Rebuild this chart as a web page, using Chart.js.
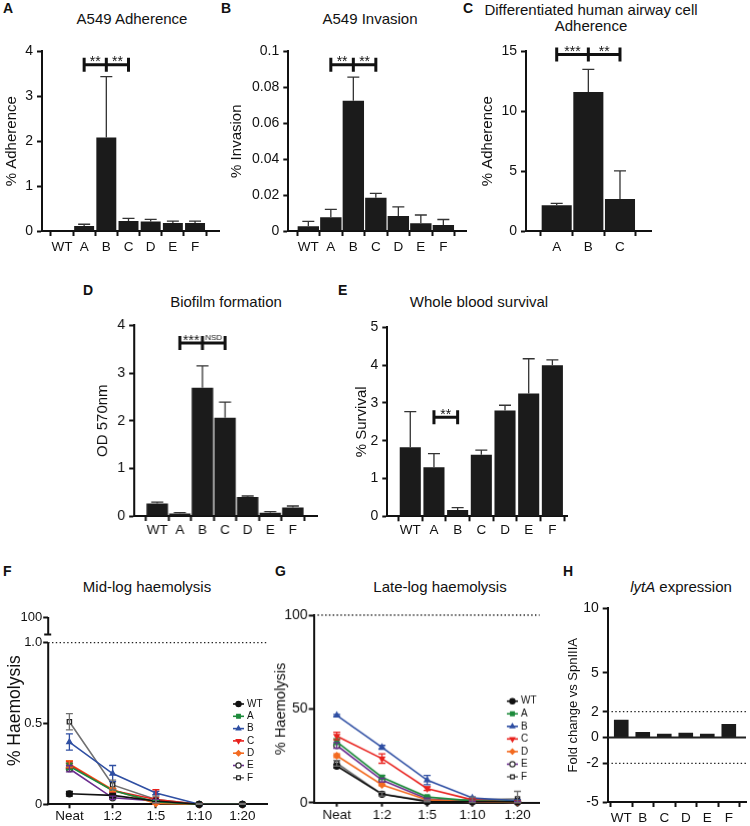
<!DOCTYPE html>
<html>
<head>
<meta charset="utf-8">
<script src="https://cdn.jsdelivr.net/npm/chart.js@4/dist/chart.umd.min.js"></script>
<style>
  body { margin: 0; width: 750px; height: 826px; background: #fff; position: relative; overflow: hidden;
         font-family: "Liberation Sans", Arial, sans-serif; color: #111; }
  .box { position: absolute; }
  .tag { position: absolute; font-weight: bold; font-size: 14px; line-height: 14px; }
  .ttl { position: absolute; font-size: 15px; line-height: 17px; transform: translateX(-50%); white-space: nowrap; text-align: center; }
</style>
</head>
<body>
<div class="tag" style="left:3px;top:1px">A</div>
<div class="tag" style="left:221px;top:1px">B</div>
<div class="tag" style="left:463px;top:1px">C</div>
<div class="tag" style="left:83px;top:283px">D</div>
<div class="tag" style="left:338px;top:283px">E</div>
<div class="tag" style="left:3px;top:564px">F</div>
<div class="tag" style="left:275px;top:564px">G</div>
<div class="tag" style="left:563px;top:564px">H</div>

<div class="ttl" style="left:132px;top:10px">A549 Adherence</div>
<div class="ttl" style="left:370px;top:10px">A549 Invasion</div>
<div class="ttl" style="left:591px;top:2px;line-height:16px">Differentiated human airway cell<br>Adherence</div>
<div class="ttl" style="left:226px;top:293px">Biofilm formation</div>
<div class="ttl" style="left:479px;top:293px">Whole blood survival</div>
<div class="ttl" style="left:147px;top:578px">Mid-log haemolysis</div>
<div class="ttl" style="left:440px;top:578px">Late-log haemolysis</div>
<div class="ttl" style="left:681px;top:578px"><i>lytA</i> expression</div>

<div class="box" id="pA"><canvas></canvas></div>
<div class="box" id="pB"><canvas></canvas></div>
<div class="box" id="pC"><canvas></canvas></div>
<div class="box" id="pD"><canvas></canvas></div>
<div class="box" id="pE"><canvas></canvas></div>
<div class="box" id="pF"><canvas></canvas></div>
<div class="box" id="pG"><canvas></canvas></div>
<div class="box" id="pH"><canvas></canvas></div>

<script>
// categories
const strains = ['WT', 'A', 'B', 'C', 'D', 'E', 'F'];
const airwayStrains = ['A', 'B', 'C'];
const lytStrains = ['WT', 'B', 'C', 'D', 'E', 'F'];
const dilutions = ['Neat', '1:2', '1:5', '1:10', '1:20'];

// bar values (mean) and error (SD, drawn upwards)
const adhA549 = [0, 0.11, 2.08, 0.22, 0.21, 0.18, 0.18];
const adhA549Err = [0, 0.04, 1.36, 0.06, 0.05, 0.04, 0.04];
const invA549 = [0.0026, 0.0076, 0.0725, 0.0185, 0.0084, 0.0043, 0.0033];
const invA549Err = [0.0028, 0.0044, 0.0132, 0.0024, 0.005, 0.0046, 0.0031];
const adhAirway = [2.15, 11.6, 2.67];
const adhAirwayErr = [0.15, 1.9, 2.35];
const biofilm = [0.26, 0.05, 2.69, 2.06, 0.4, 0.07, 0.18];
const biofilmErr = [0.03, 0.02, 0.46, 0.33, 0.02, 0.02, 0.03];
const blood = [1.83, 1.3, 0.17, 1.63, 2.8, 3.25, 4.0];
const bloodErr = [0.94, 0.36, 0.06, 0.12, 0.14, 0.92, 0.14];
const lytA = [1.38, 0.42, 0.28, 0.36, 0.28, 1.05];

// haemolysis curves, one row per strain (WT, A..F), columns = dilutions
const midLog = [
  [0.065, 0.055, 0.02, 0, 0],
  [0.235, 0.085, 0.015, 0, 0],
  [0.385, 0.19, 0.07, 0, 0],
  [0.245, 0.085, 0.03, 0, 0],
  [0.25, 0.09, 0.005, 0, 0],
  [0.22, 0.04, 0.02, 0, 0],
  [0.51, 0.12, 0.03, 0, 0]
];
const midLogErr = [
  [0.015, 0.01, 0.005, 0, 0],
  [0.02, 0.01, 0.01, 0, 0],
  [0.05, 0.05, 0.01, 0, 0],
  [0.02, 0.01, 0.06, 0, 0],
  [0.02, 0.01, 0.005, 0, 0],
  [0.02, 0.01, 0.01, 0, 0],
  [0.05, 0.03, 0.02, 0.005, 0.005]
];
const lateLog = [
  [19.5, 4.5, 0.5, 0.5, 0.5],
  [32.5, 13.5, 3, 1, 0.5],
  [46.5, 29.5, 12, 2.5, 1],
  [35.5, 23.5, 7.5, 1.5, 0.5],
  [25, 9.5, 1.5, 0.5, 0.2],
  [30.5, 12, 2, 0.5, 0.2],
  [21, 4.5, 1, 1.5, 2]
];
const lateLogErr = [
  [1, 0.5, 0.3, 0.3, 0.3],
  [1.5, 1, 0.5, 0.3, 0.3],
  [0.5, 1, 2.5, 0.5, 0.5],
  [2, 2.5, 1, 0.5, 0.3],
  [1, 0.5, 0.3, 0.3, 0.3],
  [1.5, 1, 0.5, 0.3, 0.3],
  [1.5, 1, 0.5, 1.5, 4]
];

// tick values
const adhA549Ticks = [0, 1, 2, 3, 4];
const invA549Ticks = [0, 0.02, 0.04, 0.06, 0.08, 0.1];
const adhAirwayTicks = [0, 5, 10, 15];
const biofilmTicks = [0, 1, 2, 3, 4];
const bloodTicks = [0, 1, 2, 3, 4, 5];
const midLogTicks = [0, 0.5, 1.0];
const lateLogTicks = [0, 50, 100];
const lytTicks = [-5, -2, 0, 2, 5, 10];

// series styles
const lineColors = ['#111111', '#1e8b3c', '#2f4fa3', '#e8221e', '#f36b21', '#6b2d8f', '#707070'];
const pointFills = ['#111111', '#1e8b3c', '#2f4fa3', '#e8221e', '#f36b21', '#ffffff', '#ffffff'];
const pointEdges = ['#111111', '#1e8b3c', '#2f4fa3', '#e8221e', '#f36b21', '#333333', '#222222'];
const pointShapes = ['circle', 'rect', 'triangle', 'triangle', 'rectRot', 'circle', 'rect'];
const pointTurns = [0, 0, 0, 180, 0, 0, 0];

const family = '"Liberation Sans", Arial, sans-serif';
const ink = '#1b1b1b';

const errorBars = {
  id: 'errorBars',
  afterDatasetsDraw(chart) {
    const {ctx, scales: {y}} = chart;
    chart.data.datasets.forEach((ds, di) => {
      if (!ds.errors) return;
      const meta = chart.getDatasetMeta(di);
      ctx.save();
      ctx.strokeStyle = ds.errColor || '#333';
      ctx.lineWidth = 1.3;
      meta.data.forEach((el, i) => {
        const e = ds.errors[i];
        if (!e) return;
        const v = ds.data[i].y;
        const cap = ds.cap || 6;
        const top = y.getPixelForValue(v + e);
        const bot = ds.both ? y.getPixelForValue(Math.max(v - e, y.min)) : y.getPixelForValue(v);
        ctx.beginPath();
        ctx.moveTo(el.x, top); ctx.lineTo(el.x, bot);
        ctx.moveTo(el.x - cap, top); ctx.lineTo(el.x + cap, top);
        if (ds.both) { ctx.moveTo(el.x - cap, bot); ctx.lineTo(el.x + cap, bot); }
        ctx.stroke();
      });
      ctx.restore();
    });
  }
};

const brackets = {
  id: 'brackets',
  afterDatasetsDraw(chart, args, o) {
    if (!o.at) return;
    const {ctx, scales: {x, y}} = chart;
    const py = y.getPixelForValue(o.y);
    const xs = o.at.map(i => x.getPixelForValue(i));
    ctx.save();
    ctx.strokeStyle = '#111';
    ctx.lineWidth = 3;
    ctx.beginPath();
    ctx.moveTo(xs[0], py); ctx.lineTo(xs[xs.length - 1], py);
    xs.forEach(px => { ctx.moveTo(px, py - 7); ctx.lineTo(px, py + 7); });
    ctx.stroke();
    ctx.fillStyle = '#111';
    ctx.textAlign = 'center';
    ctx.textBaseline = 'alphabetic';
    o.labels.forEach((t, k) => {
      const cx = (xs[k] + xs[k + 1]) / 2;
      if (t === 'NSD') {
        ctx.font = '8px ' + family;
        ctx.fillText(t, cx, py - 3);
      } else {
        ctx.font = '14px ' + family;
        ctx.fillText(t, cx, py + 1.5);
      }
    });
    ctx.restore();
  }
};

const refLines = {
  id: 'refLines',
  afterDatasetsDraw(chart, args, o) {
    const {ctx, scales: {y}, chartArea: a} = chart;
    (o.lines || []).forEach(l => {
      const py = y.getPixelForValue(l.v);
      ctx.save();
      ctx.strokeStyle = '#222';
      ctx.lineWidth = l.dotted ? 1.3 : 2;
      ctx.setLineDash(l.dotted ? [1.4, 2.4] : []);
      ctx.beginPath();
      ctx.moveTo(a.left, py); ctx.lineTo(a.right, py);
      ctx.stroke();
      ctx.restore();
    });
  }
};

const brokenAxis = {
  id: 'brokenAxis',
  afterDraw(chart, args, o) {
    if (o.lo == null) return;
    const {ctx, scales: {y}, chartArea: a} = chart;
    const yc = y.getPixelForValue(o.cap);
    ctx.save();
    ctx.strokeStyle = '#111';
    ctx.lineWidth = 2;
    ctx.beginPath();
    ctx.moveTo(a.left, a.bottom + 1); ctx.lineTo(a.left, y.getPixelForValue(o.lo));
    ctx.moveTo(a.left, y.getPixelForValue(y.max)); ctx.lineTo(a.left, yc);
    ctx.moveTo(a.left - 4, yc); ctx.lineTo(a.left + 3, yc);
    ctx.stroke();
    ctx.restore();
  }
};

const keyBox = {
  id: 'keyBox',
  afterDraw(chart, args, o) {
    if (o.x == null) return;
    const ctx = chart.ctx;
    const box = chart.canvas.parentNode;
    const x0 = o.x - box.offsetLeft, y0 = o.y - box.offsetTop;
    chart.data.datasets.forEach((ds, i) => {
      const cy = y0 + i * o.dy;
      ctx.save();
      ctx.strokeStyle = ds.borderColor;
      ctx.lineWidth = 1.6;
      ctx.beginPath(); ctx.moveTo(x0, cy); ctx.lineTo(x0 + 11, cy); ctx.stroke();
      ctx.fillStyle = ds.pointBackgroundColor;
      ctx.strokeStyle = ds.pointBorderColor;
      ctx.lineWidth = 1.2;
      Chart.helpers.drawPoint(ctx, {pointStyle: ds.pointStyle, rotation: ds.pointRotation, radius: 2.6, borderWidth: 1.2}, x0 + 5.5, cy);
      ctx.fillStyle = '#111';
      ctx.font = '10px ' + family;
      ctx.textAlign = 'left';
      ctx.textBaseline = 'middle';
      ctx.fillText(ds.label, x0 + 14, cy);
      ctx.restore();
    });
  }
};

function place(id, g) {
  const el = document.getElementById(id);
  const left = g.x - g.yW, top = g.top - g.padTop;
  el.style.left = left + 'px';
  el.style.top = top + 'px';
  el.style.width = (g.right + g.padRight - left) + 'px';
  el.style.height = (g.bottom + g.xH - top) + 'px';
  return el.querySelector('canvas');
}

function options(g, cats) {
  return {
    responsive: true,
    maintainAspectRatio: false,
    animation: false,
    devicePixelRatio: 1,
    layout: {padding: {top: g.padTop, right: g.padRight, left: 0, bottom: 0}},
    plugins: {
      legend: {display: false},
      tooltip: {enabled: false},
      brackets: g.brackets || {},
      refLines: {lines: g.lines || []},
      brokenAxis: g.broken || {},
      keyBox: g.key || {}
    },
    scales: {
      x: {
        type: 'linear', min: g.xMin, max: g.xMax, offset: false,
        afterBuildTicks: s => { s.ticks = cats.map((c, i) => ({value: i})); },
        afterFit: s => { s.height = g.xH; },
        grid: {display: true, drawOnChartArea: false, drawTicks: true, tickLength: g.tickX, tickWidth: 2, tickColor: '#111'},
        border: {display: true, color: '#111', width: 2},
        ticks: {autoSkip: false, maxRotation: 0, padding: g.padX, color: '#111',
                font: {size: 13.5, family}, callback: v => cats[v] ?? ''}
      },
      y: {
        type: 'linear', min: g.yMin, max: g.yMax,
        afterBuildTicks: s => { s.ticks = g.ticks.map(v => ({value: v})); },
        afterFit: s => { s.width = g.yW; },
        grid: {display: true, drawOnChartArea: false, drawTicks: true, tickLength: 5, tickWidth: 2, tickColor: '#111'},
        border: {display: !g.broken, color: '#111', width: 2},
        ticks: {padding: g.tickPad, color: '#111', font: {size: g.tickSize, family},
                callback: g.fmt || (v => String(+v.toFixed(4)))},
        title: {display: true, text: g.title, color: '#111', font: {size: g.titleSize || 15, family},
                padding: {top: 4, bottom: 4}}
      }
    }
  };
}

function barPanel(id, cats, vals, errs, g) {
  g = Object.assign({padTop: 12, padRight: 8, xH: 26, tickX: 5, padX: 3, yMin: 0, tickSize: 14, tickPad: 4}, g);
  new Chart(place(id, g), {
    type: 'bar',
    data: {
      datasets: [{
        data: vals.map((v, i) => ({x: i, y: v})),
        backgroundColor: ink,
        barPercentage: g.barPct,
        categoryPercentage: 1,
        errors: errs
      }]
    },
    options: options(g, cats),
    plugins: [errorBars, brackets, refLines]
  });
}

function linePanel(id, rows, errs, g) {
  g = Object.assign({padTop: 14, padRight: 8, xH: 22, tickX: 4, padX: 0, yMin: 0, tickSize: 14, tickPad: 1}, g);
  new Chart(place(id, g), {
    type: 'line',
    data: {
      datasets: rows.map((row, s) => ({
        label: strains[s],
        data: row.map((v, i) => ({x: i, y: v})),
        borderColor: lineColors[s],
        borderWidth: 1.6,
        tension: 0,
        pointStyle: pointShapes[s],
        pointRotation: pointTurns[s],
        pointRadius: 3,
        pointBorderWidth: 1.3,
        pointBackgroundColor: pointFills[s],
        pointBorderColor: pointEdges[s],
        clip: false,
        errors: errs[s],
        errColor: lineColors[s],
        both: true,
        cap: 3.5
      }))
    },
    options: options(g, dilutions),
    plugins: [refLines, errorBars, brokenAxis, keyBox]
  });
}

barPanel('pA', strains, adhA549, adhA549Err, {
  x: 42, top: 51, right: 219, bottom: 231, yW: 43, xMin: -0.9, xMax: 7.08, barPct: 0.9,
  yMax: 4, ticks: adhA549Ticks, title: '% Adherence',
  brackets: {at: [1, 2, 3], y: 3.7, labels: ['**', '**']}
});

barPanel('pB', strains, invA549, invA549Err, {
  x: 288, top: 51, right: 466, bottom: 231, yW: 64.3, xMin: -0.89, xMax: 7.02, barPct: 0.95,
  yMax: 0.1, ticks: invA549Ticks, title: '% Invasion',
  brackets: {at: [1, 2, 3], y: 0.0926, labels: ['**', '**']}
});

barPanel('pC', airwayStrains, adhAirway, adhAirwayErr, {
  x: 526, top: 51, right: 651, bottom: 231, yW: 51, xMin: -0.97, xMax: 2.98, barPct: 0.95,
  yMax: 15, ticks: adhAirwayTicks, title: '% Adherence',
  brackets: {at: [0, 1, 2], y: 14.75, labels: ['***', '**']}
});

barPanel('pD', strains, biofilm, biofilmErr, {
  x: 134.3, top: 325, right: 317, bottom: 516, yW: 44, xMin: -1.02, xMax: 7.1, barPct: 0.95,
  padX: 1, yMax: 4, ticks: biofilmTicks, title: 'OD 570nm',
  brackets: {at: [1, 2, 3], y: 3.63, labels: ['***', 'NSD']}
});

barPanel('pE', strains, blood, bloodErr, {
  x: 387, top: 326.7, right: 567, bottom: 516, yW: 38.3, xMin: -0.97, xMax: 6.63, barPct: 0.89,
  padX: 1, yMax: 5, ticks: bloodTicks, title: '% Survival',
  brackets: {at: [1, 2], y: 2.62, labels: ['**']}
});

linePanel('pF', midLog, midLogErr, {
  x: 47.7, top: 616.7, right: 267, bottom: 804, yW: 47.2, xMin: -0.49, xMax: 4.58,
  yMax: 1.158, ticks: midLogTicks.concat([1.158]), title: '% Haemolysis', titleSize: 17.5,
  tickSize: 13,
  fmt: v => v > 1 ? '100' : v === 1 ? '1.0' : String(v),
  broken: {lo: 1.0, cap: 1.05},
  lines: [{v: 1.0, dotted: true}],
  key: {x: 233, y: 704, dy: 12.3}
});

linePanel('pG', lateLog, lateLogErr, {
  x: 314, top: 615, right: 539, bottom: 801.7, yW: 45.6, xMin: -0.51, xMax: 4.49,
  yMax: 100, ticks: lateLogTicks, title: '% Haemolysis', titleSize: 14.5,
  lines: [{v: 100, dotted: true}],
  key: {x: 506, y: 700.7, dy: 12.55}
});

barPanel('pH', lytStrains, lytA, null, {
  x: 607.7, top: 607.7, right: 746, bottom: 801.7, yW: 45.7, xMin: -0.63, xMax: 5.8, barPct: 0.68,
  padRight: 4, xH: 24.3, yMin: -5, yMax: 10, ticks: lytTicks, title: 'Fold change vs SpnIIIA', titleSize: 13,
  lines: [{v: 2, dotted: true}, {v: -2, dotted: true}, {v: 0, dotted: false}]
});
</script>
</body>
</html>
